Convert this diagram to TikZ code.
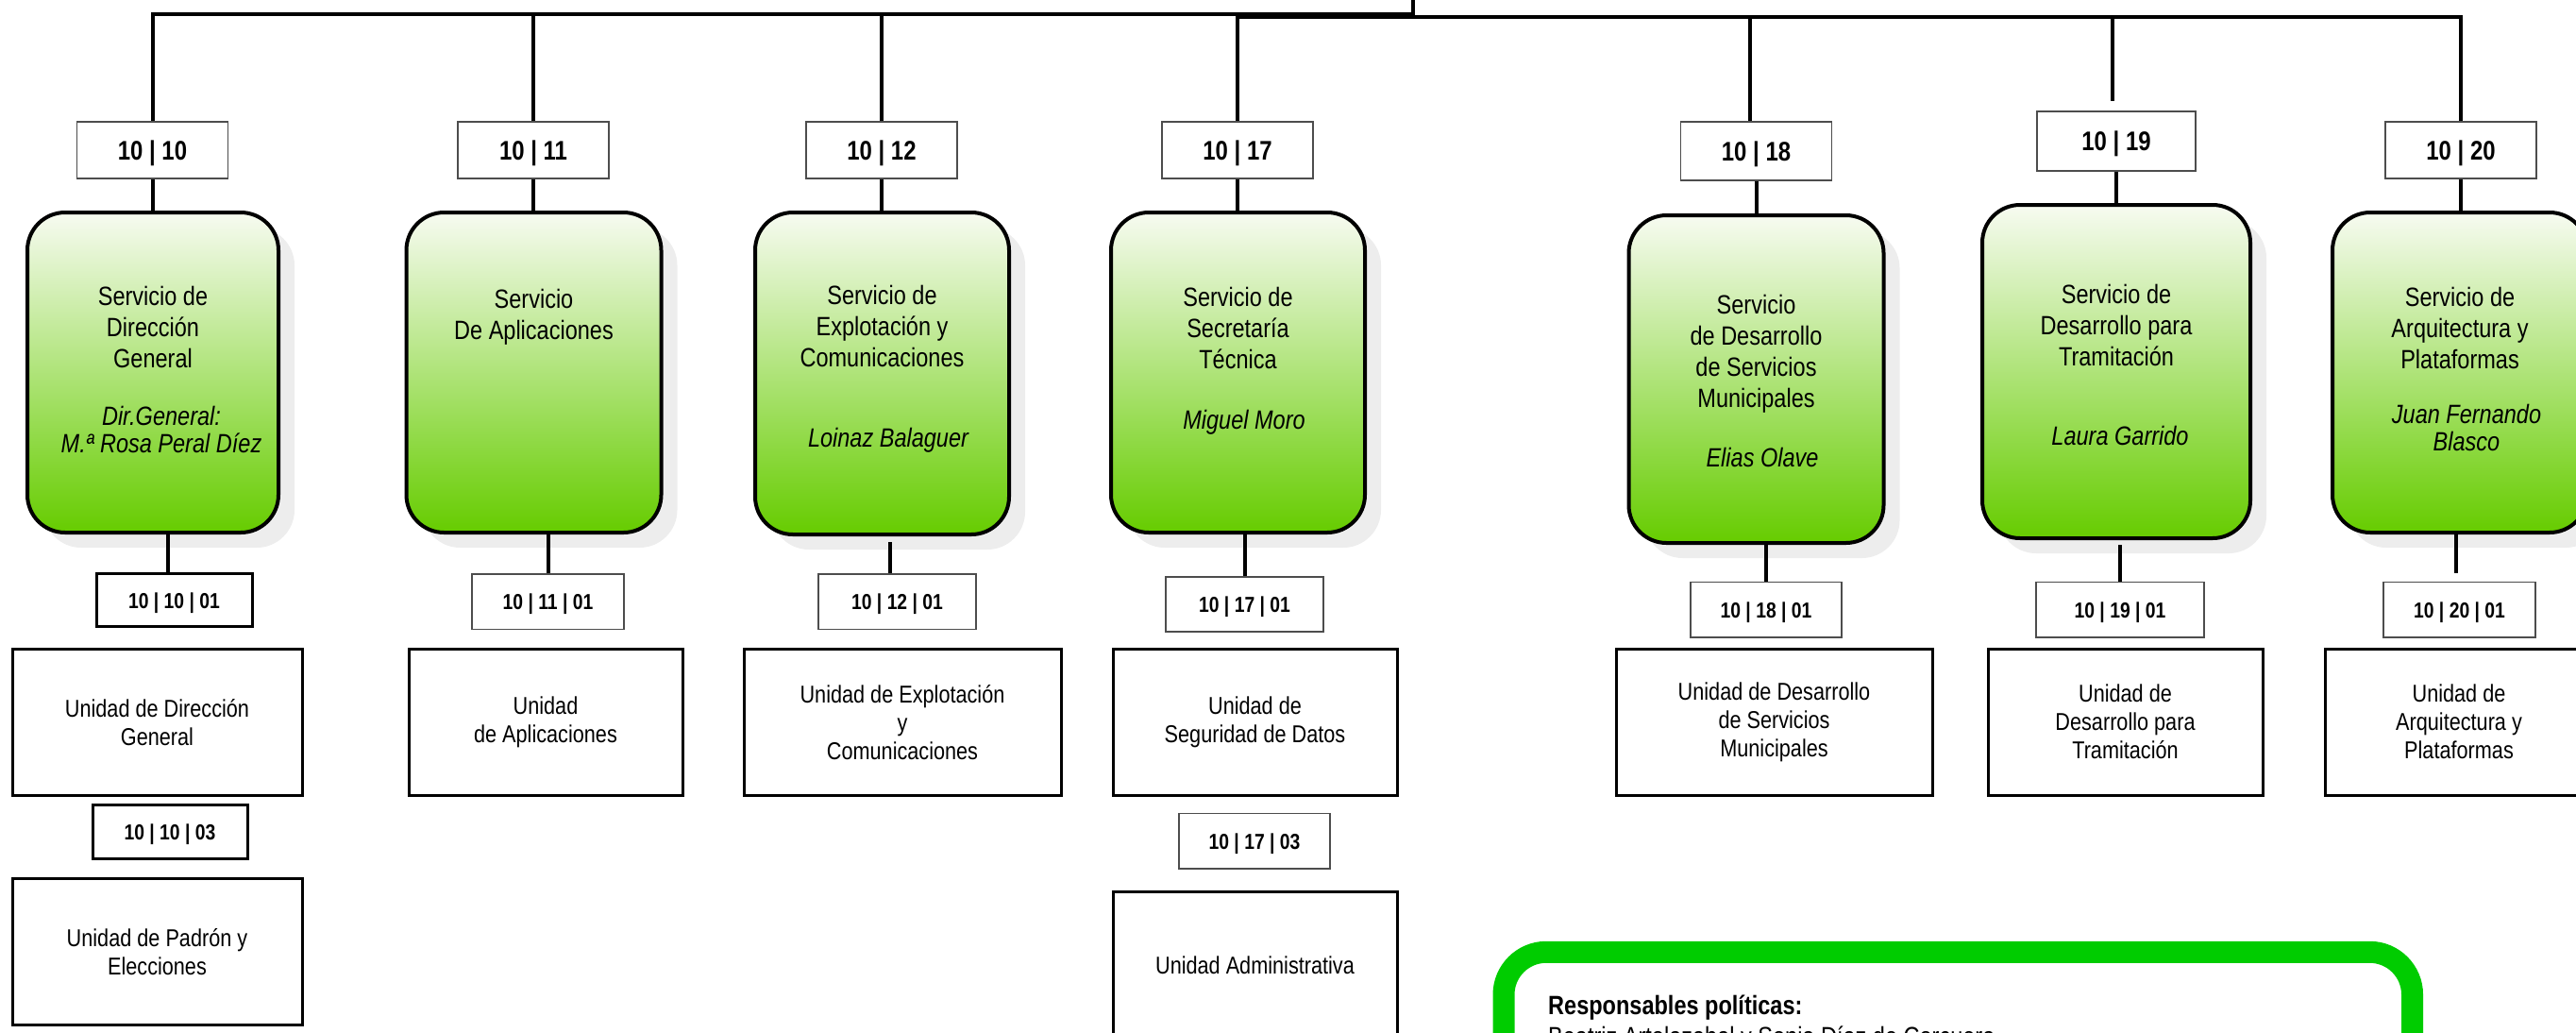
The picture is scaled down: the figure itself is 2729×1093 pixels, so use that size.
\documentclass[tikz,border=0pt]{standalone}
\usepackage{fontspec}
\setmainfont{Liberation Sans}[FakeStretch=0.84]
\usepackage{tikz}
\usetikzlibrary{positioning,shadows}
\definecolor{gtop}{HTML}{F7FBF1}
\definecolor{gbot}{HTML}{66CC00}
\definecolor{polg}{HTML}{00CC00}
\definecolor{shad}{HTML}{EDEDED}
\definecolor{codec}{HTML}{4D4D4D}
\tikzset{
  link/.style={line width=4pt,black},
  code/.style={draw=codec,line width=1.5pt,fill=white,minimum width=160pt,minimum height=60pt,inner sep=0pt,text depth=0pt,font=\fontsize{28.5}{32}\selectfont\bfseries},
  subc/.style={draw=codec,line width=1.5pt,fill=white,minimum width=162pt,minimum height=58.3pt,inner sep=0pt,text depth=0pt,font=\fontsize{23}{26}\selectfont\bfseries},
  subk/.style={subc,draw=black,line width=3pt},
  serv/.style={draw=black,line width=4pt,rounded corners=40pt,top color=gtop,bottom color=gbot,minimum width=270pt,minimum height=339pt,inner sep=0pt,
    drop shadow={shadow xshift=17pt,shadow yshift=-16pt,fill=shad,opacity=1}},
  stxt/.style={anchor=north,align=center,inner sep=0pt,font=\fontsize{28}{33}\selectfont},
  sname/.style={anchor=north,align=center,inner sep=0pt,font=\fontsize{28}{29}\selectfont\itshape},
  unit/.style={draw=black,line width=3pt,fill=white,align=center,minimum height=155.3pt,inner sep=0pt,font=\fontsize{25.8}{30}\selectfont},
  resbox/.style={draw=polg,line width=23pt,rounded corners=45pt,minimum width=962.5pt,minimum height=300pt,outer sep=0pt,anchor=north west},
  rtxt/.style={anchor=base west,inner sep=0pt,font=\fontsize{28}{33}\selectfont}
}
\begin{document}
\begin{tikzpicture}[x=1pt,y=-1pt]
\useasboundingbox (0,0) rectangle (2729,1093);
\clip (0,0) rectangle (2729,1093);

\node[code] (c10) at (161.5,159) {10 | 10};
\node[code] (c11) at (565,159) {10 | 11};
\node[code] (c12) at (934,159) {10 | 12};
\node[code] (c17) at (1311,159) {10 | 17};
\node[code,minimum height=62pt] (c18) at (1860.5,160) {10 | 18};
\node[code,minimum width=168pt,minimum height=63pt] (c19) at (2242,149.5) {10 | 19};
\node[code] (c20) at (2607,159) {10 | 20};

\coordinate (root) at (1497,0);
\coordinate (busl) at (1497,14.5);
\coordinate (busr) at (1497,17.5);
\draw[link] (root) -- (busr);
\draw[link] (busl) -| (c10.north);
\draw[link] (busl) -| (c11.north);
\draw[link] (busl) -| (c12.north);
\draw[link] (busr) -| (c17.north);
\draw[link] (busr) -| ([xshift=-7pt]c18.north);
\draw[link] (busr) -| ([xshift=-4pt,yshift=10pt]c19.north);
\draw[link] (busr) -| (c20.north);

\node[serv,minimum width=266pt] (s10) at (162,394.5) {};
\node[serv] (s11) at (565.5,394.5) {};
\node[serv,minimum width=269pt,minimum height=341pt] (s12) at (934.5,395.5) {};
\node[serv,minimum width=269pt] (s17) at (1311.5,394.5) {};
\node[serv,minimum height=347pt] (s18) at (1860.5,401.5) {};
\node[serv,minimum width=284pt,minimum height=353pt] (s19) at (2242,393.5) {};
\node[serv] (s20) at (2606,394.5) {};

\foreach \n in {10,11,12,17,18,19,20}
  \draw[link] (c\n.south) -- (c\n.south |- s\n.north);

\node[stxt] (t10) at (162,303.5) {Servicio de\\Dirección\\General};
\node[sname] (n10) at (171,430.5) {Dir.General:\\M.ª Rosa Peral Díez};
\node[stxt] (t11) at (565.5,306.5) {Servicio\\De Aplicaciones};
\node[stxt] (t12) at (934.5,302.5) {Servicio de\\Explotación y\\Comunicaciones};
\node[sname] (n12) at (941,453.5) {Loinaz Balaguer};
\node[stxt] (t17) at (1311.5,304.5) {Servicio de\\Secretaría\\Técnica};
\node[sname] (n17) at (1318,434.5) {Miguel Moro};
\node[stxt] (t18) at (1860.5,312) {Servicio\\de Desarrollo\\de Servicios\\Municipales};
\node[sname] (n18) at (1867,474.5) {Elias Olave};
\node[stxt] (t19) at (2242,301.5) {Servicio de\\Desarrollo para\\Tramitación};
\node[sname] (n19) at (2246,451.5) {Laura Garrido};
\node[stxt] (t20) at (2606,304.5) {Servicio de\\Arquitectura y\\Plataformas};
\node[sname] (n20) at (2613,428.5) {Juan Fernando\\Blasco};

\node[subk,minimum width=165pt,minimum height=56.3pt] (d1001) at (184.5,635.8) {10 | 10 | 01};
\node[subc,minimum width=161pt] (d1101) at (580.5,637.3) {10 | 11 | 01};
\node[subc,minimum width=167pt] (d1201) at (950.5,637.3) {10 | 12 | 01};
\node[subc,minimum width=167pt] (d1701) at (1318.5,640) {10 | 17 | 01};
\node[subc,minimum width=160pt] (d1801) at (1871,645.8) {10 | 18 | 01};
\node[subc,minimum width=178pt] (d1901) at (2246,645.8) {10 | 19 | 01};
\node[subc,minimum width=161pt] (d2001) at (2605.5,645.8) {10 | 20 | 01};
\node[subk,minimum width=164pt,minimum height=56.6pt] (d1003) at (180,881) {10 | 10 | 03};
\node[subc,minimum width=160pt] (d1703) at (1329,890.8) {10 | 17 | 03};

\draw[link] ([xshift=-7pt]s10.south -| d1001.north) -- ([xshift=-7pt]d1001.north);
\draw[link] (s11.south -| d1101.north) -- (d1101.north);
\draw[link] ([xshift=-8pt,yshift=-6pt]s12.south -| d1201.north) -- ([xshift=-8pt]d1201.north);
\draw[link] (s17.south -| d1701.north) -- (d1701.north);
\draw[link] (s18.south -| d1801.north) -- (d1801.north);
\draw[link] ([yshift=-5pt]s19.south -| d1901.north) -- (d1901.north);
\draw[link] ([xshift=-4pt]s20.south -| d2001.north) -- ([xshift=-4pt,yshift=9pt]d2001.north);

\node[unit,minimum width=307pt] (u1001) at (166.5,764.7) {Unidad de Dirección\\General};
\node[unit,minimum width=307pt] (u1003) at (166.5,1008.3) {Unidad de Padrón y\\Elecciones};
\node[unit,minimum width=290pt] (u1101) at (578,764.7) {Unidad\\de Aplicaciones};
\node[unit,minimum width=336pt] (u1201) at (956,764.7) {Unidad de Explotación\\y\\Comunicaciones};
\node[unit,minimum width=301pt] (u1701) at (1329.5,764.7) {Unidad de\\Seguridad de Datos};
\node[unit,minimum width=301pt,minimum height=230pt,anchor=north] (u1703) at (1329.5,943.3) {};
\node[font=\fontsize{25.8}{30}\selectfont,inner sep=0pt] (u1703t) at (1329.5,1022.3) {Unidad Administrativa};
\node[unit,minimum width=335pt] (u1801) at (1879.5,764.7) {Unidad de Desarrollo\\de Servicios\\Municipales};
\node[unit,minimum width=291pt] (u1901) at (2251.5,764.7) {Unidad de\\Desarrollo para\\Tramitación};
\node[unit,minimum width=284pt] (u2001) at (2605,764.7) {Unidad de\\Arquitectura y\\Plataformas};

\node[resbox] (resp) at (1593,1008.3) {};
\node[rtxt] (resp1) at (1640,1074) {\bfseries Responsables políticas:};
\node[rtxt] (resp2) at (1640,1107) {Beatriz Artolazabal y Sonia Díaz de Corcuera};
\end{tikzpicture}
\end{document}
